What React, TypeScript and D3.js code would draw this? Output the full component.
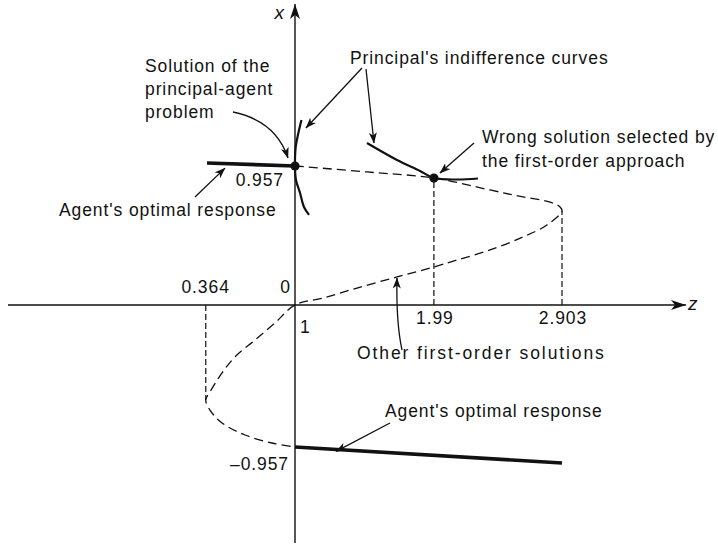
import React from "react";
import * as d3 from "d3";

// First-order solutions of the agent's problem (z, x)
const foSolutionZ = [1, 1.513, 1.99, 2.39, 2.625, 2.818, 2.889, 2.903, 2.796, 2.625, 2.39, 2.155, 1.99, 1.727, 1.442, 1.2, 1, 0.857, 0.715, 0.572, 0.48, 0.394, 0.364, 0.394, 0.48, 0.644, 0.836, 1];
const foSolutionX = [0.957, 0.916, 0.874, 0.792, 0.744, 0.709, 0.675, 0.647, 0.551, 0.468, 0.379, 0.31, 0.262, 0.193, 0.117, 0.048, 0, -0.121, -0.236, -0.35, -0.458, -0.586, -0.64, -0.708, -0.795, -0.876, -0.93, -0.957];

// Principal's indifference curves
const indiff1Z = [1.046, 1.024, 1.005, 1, 1.007, 1.036, 1.064, 1.1];
const indiff1X = [1.274, 1.184, 1.088, 0.957, 0.861, 0.771, 0.675, 0.62];
const indiff2Z = [1.513, 1.727, 1.891, 1.99, 2.155, 2.304];
const indiff2X = [1.115, 0.998, 0.923, 0.874, 0.864, 0.871];

// Agent's optimal response segments
const upperResponseZ = [0.373, 1];
const upperResponseX = [0.978, 0.957];
const lowerResponseZ = [1, 2.903];
const lowerResponseX = [-0.957, -1.065];

// Highlighted solutions
const optimumZ = 1;
const optimumX = 0.957;
const wrongZ = 1.99;
const wrongX = 0.874;

// Reference values on the axes
const zTickValues = [0.364, 1.99, 2.903];
const zTickLabels = ["0.364", "1.99", "2.903"];
const zDropFromX = [-0.64, 0.874, 0.647];
const xTickValues = [0.957, -0.957];
const xTickLabels = ["0.957", "\u20130.957"];

const W = 718;
const H = 548;
const FONT = "'Liberation Sans', Arial, Helvetica, sans-serif";
const INK = "#111";

const zS = d3.scaleLinear().domain([1, 2.903]).range([295, 562]);
const xS = d3.scaleLinear().domain([-0.957, 0, 0.957]).range([447, 305, 166]);

const zip = (zs: number[], xs: number[]) => zs.map((z, i) => [z, xs[i]] as [number, number]);

const smooth = d3
  .line<[number, number]>()
  .x((d) => zS(d[0]))
  .y((d) => xS(d[1]))
  .curve(d3.curveCatmullRom.alpha(0.5));
const straight = d3
  .line<[number, number]>()
  .x((d) => zS(d[0]))
  .y((d) => xS(d[1]));

const txt = {
  fontFamily: FONT,
  fontSize: 17.5,
  letterSpacing: 0.9,
  fill: INK,
} as React.CSSProperties;

export default function App() {
  const ox = zS(1);
  const oy = xS(0);
  const opt = [zS(optimumZ), xS(optimumX)];
  const wrong = [zS(wrongZ), xS(wrongX)];

  // annotation leaders, each ending in a barbed arrowhead
  const leaders = [
    `M233,112 Q276,121 ${opt[0] - 7},${opt[1] - 8}`,
    `M362,68 L${zS(indiff1Z[0]) + 4.5},${xS(indiff1X[0]) + 8}`,
    `M366,69 L${zS(indiff2Z[0]) + 7},${xS(indiff2X[0])}`,
    `M474,143 L${wrong[0] + 6},${wrong[1] - 5}`,
    `M195,197 L225,${xS(0.97) + 4}`,
    `M402,350 Q396,322 ${zS(1.727)},${xS(0.193) + 1}`,
    `M390,423 L336,${xS(-0.98) + 1}`,
  ];

  return (
    <svg
      width={W}
      height={H}
      viewBox={`0 0 ${W} ${H}`}
      style={{ position: "absolute", left: 0, top: 0, background: "#fff" }}
    >
      <defs>
        <marker id="barb" viewBox="0 0 11 8" refX="10.5" refY="4" markerWidth="11" markerHeight="8" markerUnits="userSpaceOnUse" orient="auto">
          <path d="M0,0 L11,4 L0,8 L3,4 Z" fill={INK} />
        </marker>
        <marker id="axisHead" viewBox="0 0 15 10" refX="15" refY="5" markerWidth="15" markerHeight="10" markerUnits="userSpaceOnUse" orient="auto">
          <path d="M0,0 L15,5 L0,10 L4,5 Z" fill={INK} />
        </marker>
      </defs>
      <rect width={W} height={H} fill="#fff" />

      {/* axes */}
      <line x1={8} y1={oy} x2={686} y2={oy} stroke={INK} strokeWidth={1.4} markerEnd="url(#axisHead)" />
      <line x1={ox} y1={543} x2={ox} y2={4} stroke={INK} strokeWidth={1.4} markerEnd="url(#axisHead)" />
      <text x={284} y={19} textAnchor="end" style={{ ...txt, fontSize: 19, fontStyle: "italic", letterSpacing: 0 }}>x</text>
      <text x={688} y={310} style={{ ...txt, fontSize: 19, fontStyle: "italic", letterSpacing: 0 }}>z</text>

      {/* drop lines to the z axis */}
      {zTickValues.map((v, i) => (
        <line key={`drop${i}`} x1={zS(v)} x2={zS(v)} y1={oy} y2={xS(zDropFromX[i])} stroke={INK} strokeWidth={1.2} strokeDasharray="6,3" />
      ))}

      {/* first-order solutions */}
      <path d={smooth(zip(foSolutionZ, foSolutionX)) || ""} fill="none" stroke={INK} strokeWidth={1.3} strokeDasharray="9,5" />

      {/* principal's indifference curves */}
      <path d={smooth(zip(indiff1Z, indiff1X)) || ""} fill="none" stroke={INK} strokeWidth={2.2} />
      <path d={smooth(zip(indiff2Z, indiff2X)) || ""} fill="none" stroke={INK} strokeWidth={2.2} />

      {/* agent's optimal response */}
      <path d={straight(zip(upperResponseZ, upperResponseX)) || ""} fill="none" stroke={INK} strokeWidth={3.6} />
      <path d={straight(zip(lowerResponseZ, lowerResponseX)) || ""} fill="none" stroke={INK} strokeWidth={3.6} />

      {/* solutions */}
      <circle cx={opt[0]} cy={opt[1]} r={4.6} fill={INK} />
      <circle cx={wrong[0]} cy={wrong[1]} r={4.6} fill={INK} />

      {/* tick labels */}
      <text x={zS(zTickValues[0]) + 24} y={293} textAnchor="end" style={txt}>{zTickLabels[0]}</text>
      <text x={zS(zTickValues[1]) + 1} y={324} textAnchor="middle" style={txt}>{zTickLabels[1]}</text>
      <text x={zS(zTickValues[2]) + 1} y={324} textAnchor="middle" style={txt}>{zTickLabels[2]}</text>
      <text x={ox - 4} y={293} textAnchor="end" style={txt}>0</text>
      <text x={ox + 5} y={333} style={txt}>1</text>
      <text x={ox - 11} y={xS(xTickValues[0]) + 20} textAnchor="end" style={txt}>{xTickLabels[0]}</text>
      <text x={ox - 6} y={xS(xTickValues[1]) + 23} textAnchor="end" style={txt}>{xTickLabels[1]}</text>

      {/* annotations */}
      {leaders.map((d, i) => (
        <path key={`lead${i}`} d={d} fill="none" stroke={INK} strokeWidth={1.3} markerEnd="url(#barb)" />
      ))}
      <text style={txt}>
        <tspan x={145} y={72}>Solution of the</tspan>
        <tspan x={145} y={95}>principal-agent</tspan>
        <tspan x={145} y={118}>problem</tspan>
      </text>
      <text x={350} y={64} style={txt}>Principal's indifference curves</text>
      <text style={txt}>
        <tspan x={482} y={143}>Wrong solution selected by</tspan>
        <tspan x={482} y={167}>the first-order approach</tspan>
      </text>
      <text x={59} y={216} style={txt}>Agent's optimal response</text>
      <text x={357} y={359} style={{ ...txt, letterSpacing: 1.9 }}>Other first-order solutions</text>
      <text x={385} y={417} style={txt}>Agent's optimal response</text>
    </svg>
  );
}
